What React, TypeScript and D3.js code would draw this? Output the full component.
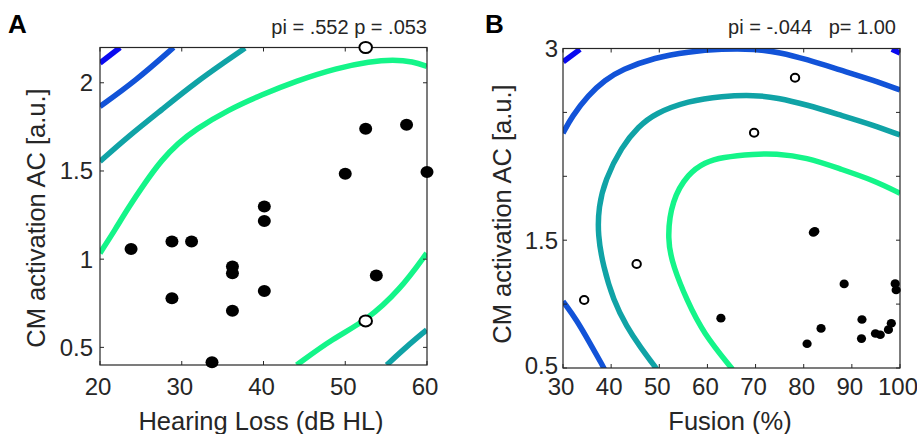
import React from "react";
import * as d3 from "d3";

// ---------- Panel A data ----------
const aXTicks = [20, 30, 40, 50, 60];
const aYTicks = [0.5, 1, 1.5, 2];
const aYTickLabels = ["0.5", "1", "1.5", "2"];
const aFilled: [number, number][] = [
  [23.8, 1.057], [28.8, 1.1], [31.2, 1.1], [28.8, 0.779], [36.2, 0.958], [36.2, 0.92],
  [36.2, 0.708], [33.7, 0.415], [40.1, 1.298], [40.1, 1.217], [40.1, 0.82],
  [52.5, 1.739], [57.5, 1.762], [50.0, 1.484], [60.0, 1.494], [53.8, 0.907],
];
const aOpen: [number, number][] = [[52.5, 2.2], [52.5, 0.65]];
const aLevel1: [number, number][] = [[20, 2.112], [22.45, 2.2]];
const aLevel2: [number, number][] = [[20, 1.866], [24.28, 2.008], [29.0, 2.2]];
const aLevel3a: [number, number][] = [[20, 1.554], [23.46, 1.696], [27.55, 1.847], [31.62, 1.999], [35.69, 2.131], [37.74, 2.197]];
const aLevel3b: [number, number][] = [[55.07, 0.4], [57.5, 0.504], [59.96, 0.599]];
const aLevel4a: [number, number][] = [
  [20, 1.034], [21.83, 1.166], [23.46, 1.291], [25.5, 1.433], [27.55, 1.563], [29.58, 1.658],
  [31.62, 1.734], [35.69, 1.847], [39.78, 1.932], [43.85, 2.008], [48.99, 2.084], [53.03, 2.121],
  [55.87, 2.131], [58.29, 2.121], [60, 2.093],
];
const aLevel4b: [number, number][] = [[44.06, 0.4], [48.54, 0.552], [52.54, 0.65], [56.7, 0.826], [59.96, 1.034]];

// ---------- Panel B data ----------
const bXTicks = [30, 40, 50, 60, 70, 80, 90, 100];
const bYTicks = [0.5, 1, 1.5, 2, 2.5, 3];
const bYTickLabels = ["0.5", "", "1.5", "", "", "3"];
const bFilled: [number, number][] = [
  [82.0, 1.56], [82.3, 1.57], [88.4, 1.158], [99.0, 1.16], [99.2, 1.11], [62.8, 0.89],
  [92.1, 0.88], [83.6, 0.81], [80.7, 0.69], [92.0, 0.73], [94.9, 0.77], [95.9, 0.76],
  [97.6, 0.8], [98.2, 0.85],
];
const bOpen: [number, number][] = [[78.2, 2.771], [69.7, 2.341], [45.3, 1.314], [34.4, 1.032]];
const bLevel1a: [number, number][] = [[30.06, 2.897], [33.53, 2.993]];
const bLevel1b: [number, number][] = [[98.3, 2.995], [100, 2.965]];
const bLevel2a: [number, number][] = [
  [30.0, 2.337], [31.81, 2.466], [35.26, 2.636], [38.72, 2.753], [42.19, 2.835], [49.11, 2.93],
  [56.03, 2.975], [62.97, 2.997], [69.88, 2.997], [75.0, 2.97], [80.62, 2.915], [87.54, 2.832],
  [94.46, 2.752], [100, 2.675],
];
const bLevel2b: [number, number][] = [[30.0, 1.022], [32.84, 0.876], [35.61, 0.693], [38.37, 0.51], [38.6, 0.49]];
const bLevel3: [number, number][] = [
  [49.5, 0.49], [45.99, 0.667], [43.23, 0.823], [40.45, 1.032], [38.37, 1.293], [37.2, 1.541],
  [37.4, 1.762], [38.72, 1.971], [42.19, 2.232], [45.64, 2.388], [49.11, 2.493], [56.03, 2.59],
  [62.97, 2.628], [69.88, 2.636], [74.5, 2.615], [80.62, 2.56], [87.54, 2.48], [94.46, 2.401],
  [100, 2.323],
];
const bLevel4: [number, number][] = [
  [65.2, 0.49], [59.14, 0.772], [55.7, 1.032], [52.91, 1.293], [51.6, 1.502], [52.58, 1.815],
  [56.03, 2.023], [59.5, 2.11], [62.97, 2.15], [69.88, 2.175], [74.0, 2.178], [80.62, 2.148],
  [87.54, 2.058], [94.46, 1.97], [100, 1.867],
];

const levelColors = ["#0a0af0", "#1253d8", "#10a3a6", "#14f589"];

const FONT = "'Liberation Sans', Arial, Helvetica, sans-serif";
const AX = "#262626";

type Line = { pts: [number, number][]; c: number };

function Panel(props: {
  id: string;
  x0: number; x1: number; y0: number; y1: number;
  xDom: [number, number]; yDom: [number, number];
  xTicks: number[]; yTicks: number[]; yTickLabels: string[];
  filled: [number, number][]; open: [number, number][];
  lines: Line[];
  dotR: [number, number]; openR: [number, number];
  xLabel: string; yLabelX: number; yLabelY: number; xLabelX: number;
  yTickGap: number; bottomLabelShift: number;
}) {
  const p = props;
  const x = d3.scaleLinear().domain(p.xDom).range([p.x0, p.x1]);
  const y = d3.scaleLinear().domain(p.yDom).range([p.y1, p.y0]);
  const line = d3.line<[number, number]>().x(d => x(d[0])).y(d => y(d[1])).curve(d3.curveBasis);
  const tl = 4;
  return (
    <g>
      <defs>
        <clipPath id={"clip" + p.id}>
          <rect x={p.x0} y={p.y0} width={p.x1 - p.x0} height={p.y1 - p.y0} />
        </clipPath>
      </defs>
      <g clipPath={`url(#clip${p.id})`}>
        {p.lines.map((l, i) => (
          <path key={i} d={line(l.pts) || ""} fill="none" stroke={levelColors[l.c]} strokeWidth={5.5} strokeLinecap="butt" />
        ))}
      </g>
      {/* frame */}
      <rect x={p.x0} y={p.y0} width={p.x1 - p.x0} height={p.y1 - p.y0} fill="none" stroke={AX} strokeWidth={1.2} />
      {p.xTicks.map((t, i) => (
        <g key={"xt" + i}>
          <line x1={x(t)} x2={x(t)} y1={p.y1} y2={p.y1 - tl} stroke={AX} strokeWidth={1} />
          <line x1={x(t)} x2={x(t)} y1={p.y0} y2={p.y0 + tl} stroke={AX} strokeWidth={1} />
          <text x={x(t) - 2} y={395} textAnchor="middle" fontSize={24} fill={AX} fontFamily={FONT}>{t}</text>
        </g>
      ))}
      {p.yTicks.map((t, i) => (
        <g key={"yt" + i}>
          <line x1={p.x0} x2={p.x0 + tl} y1={y(t)} y2={y(t)} stroke={AX} strokeWidth={1} />
          <line x1={p.x1} x2={p.x1 - tl} y1={y(t)} y2={y(t)} stroke={AX} strokeWidth={1} />
          <text x={p.x0 - p.yTickGap} y={y(t) - (i === 0 ? p.bottomLabelShift : 0)} dy="0.35em" textAnchor="end" fontSize={24} fill={AX} fontFamily={FONT}>{p.yTickLabels[i]}</text>
        </g>
      ))}
      {p.filled.map((d, i) => (
        <ellipse key={"f" + i} cx={x(d[0])} cy={y(d[1])} rx={p.dotR[0]} ry={p.dotR[1]} fill="#000" />
      ))}
      {p.open.map((d, i) => (
        <ellipse key={"o" + i} cx={x(d[0])} cy={y(d[1])} rx={p.openR[0]} ry={p.openR[1]} fill="#fff" stroke="#000" strokeWidth={2} />
      ))}
      <text x={p.xLabelX} y={430} textAnchor="middle" fontSize={25.5} fill={AX} fontFamily={FONT}>{p.xLabel}</text>
      <text transform={`translate(${p.yLabelX},${p.yLabelY}) rotate(-90)`} textAnchor="middle" fontSize={25.5} fill={AX} fontFamily={FONT}>CM activation AC [a.u.]</text>
    </g>
  );
}

export default function App() {
  const linesA: Line[] = [
    { pts: aLevel1, c: 0 }, { pts: aLevel2, c: 1 }, { pts: aLevel3a, c: 2 }, { pts: aLevel3b, c: 2 },
    { pts: aLevel4a, c: 3 }, { pts: aLevel4b, c: 3 },
  ];
  const linesB: Line[] = [
    { pts: bLevel1a, c: 0 }, { pts: bLevel1b, c: 0 }, { pts: bLevel2a, c: 1 }, { pts: bLevel2b, c: 1 },
    { pts: bLevel3, c: 2 }, { pts: bLevel4, c: 3 },
  ];
  return (
    <svg width={917} height={434} style={{ position: "absolute", left: 0, top: 0, background: "#fff" }}>
      <rect width={917} height={434} fill="#fff" />
      <Panel id="A" x0={100} x1={427} y0={47.5} y1={365} xDom={[20, 60]} yDom={[0.4, 2.2]}
        xTicks={aXTicks} yTicks={aYTicks} yTickLabels={aYTickLabels}
        filled={aFilled} open={aOpen} lines={linesA} dotR={[6.5, 6]} openR={[6.3, 5.5]}
        xLabel="Hearing Loss (dB HL)" xLabelX={261} yLabelX={45} yLabelY={218} yTickGap={7} bottomLabelShift={0} />
      <Panel id="B" x0={563} x1={900} y0={48.5} y1={368} xDom={[30, 100]} yDom={[0.5, 3]}
        xTicks={bXTicks} yTicks={bYTicks} yTickLabels={bYTickLabels}
        filled={bFilled} open={bOpen} lines={linesB} dotR={[4.6, 4.3]} openR={[4.2, 4]}
        xLabel="Fusion (%)" xLabelX={730} yLabelX={511} yLabelY={214} yTickGap={5} bottomLabelShift={2} />
      <text x={8} y={33} fontSize={26} fontWeight="bold" fill="#000" fontFamily={FONT}>A</text>
      <text x={485} y={33} fontSize={26} fontWeight="bold" fill="#000" fontFamily={FONT}>B</text>
      <text x={427} y={34} textAnchor="end" fontSize={20} fill={AX} fontFamily={FONT}>pi = .552 p = .053</text>
      <text x={896} y={34} textAnchor="end" fontSize={20} fill={AX} fontFamily={FONT} style={{ whiteSpace: "pre" }}>{"pi = -.044   p= 1.00"}</text>
    </svg>
  );
}
